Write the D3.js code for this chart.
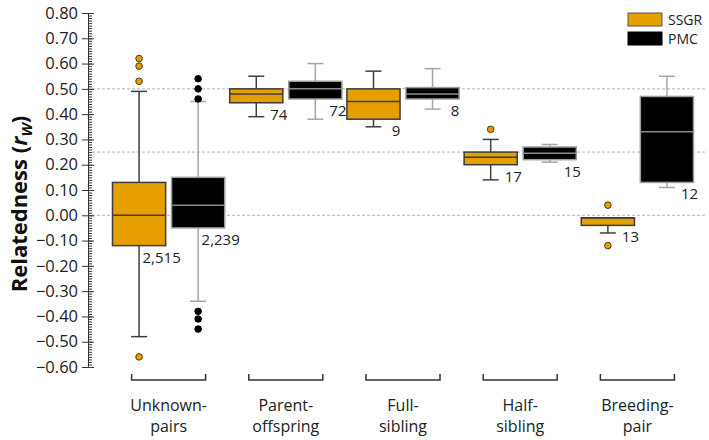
<!DOCTYPE html>
<html><head><meta charset="utf-8">
<script src="https://cdn.jsdelivr.net/npm/d3@7"></script>
<style>body{margin:0;background:#fff}text{font-family:"Open Sans",sans-serif}</style>
</head><body><svg id="c" width="709" height="440"></svg>
<script>
const categories = ["Unknown-pairs","Parent-offspring","Full-sibling","Half-sibling","Breeding-pair"];
const categoryLines = [["Unknown-","pairs"],["Parent-","offspring"],["Full-","sibling"],["Half-","sibling"],["Breeding-","pair"]];
const series = ["SSGR","PMC"];
const yTicks = [0.8,0.7,0.6,0.5,0.4,0.3,0.2,0.1,0,-0.1,-0.2,-0.3,-0.4,-0.5,-0.6];
const gridValues = [0.5,0.25,0];

const ssgrLow    = [-0.48, 0.39, 0.35, 0.14, -0.07];
const ssgrQ1     = [-0.12, 0.445, 0.38, 0.20, -0.04];
const ssgrMedian = [0.00, 0.48, 0.45, 0.23, -0.01];
const ssgrQ3     = [0.13, 0.50, 0.50, 0.25, -0.01];
const ssgrHigh   = [0.49, 0.55, 0.57, 0.30, -0.01];
const ssgrN      = [2515, 74, 9, 17, 13];
const ssgrOutliers = [[0.62,0.59,0.53,-0.56],[],[],[0.34],[0.04,-0.12]];

const pmcLow    = [-0.34, 0.38, 0.42, 0.21, 0.11];
const pmcQ1     = [-0.05, 0.46, 0.46, 0.22, 0.13];
const pmcMedian = [0.04, 0.50, 0.48, 0.245, 0.33];
const pmcQ3     = [0.15, 0.53, 0.505, 0.27, 0.47];
const pmcHigh   = [0.45, 0.60, 0.58, 0.28, 0.55];
const pmcN      = [2239, 72, 8, 15, 12];
const pmcOutliers = [[0.54,0.50,0.46,-0.38,-0.41,-0.45],[],[],[],[]];

const styles = {
  SSGR: {fill:"#E69F00", stroke:"#3d3d3d", median:"#3d3d3d", whisker:"#404040", ptFill:"#E69F00", ptStroke:"#4a3b10"},
  PMC:  {fill:"#000000", stroke:"#9c9c9c", median:"#8a8a8a", whisker:"#a6a6a6", ptFill:"#000000", ptStroke:"#000000"}
};

const boxes = [];
categories.forEach((c,i)=>{
  boxes.push({cat:c, s:"SSGR", low:ssgrLow[i], q1:ssgrQ1[i], med:ssgrMedian[i], q3:ssgrQ3[i], high:ssgrHigh[i], n:ssgrN[i], out:ssgrOutliers[i]});
  boxes.push({cat:c, s:"PMC", low:pmcLow[i], q1:pmcQ1[i], med:pmcMedian[i], q3:pmcQ3[i], high:pmcHigh[i], n:pmcN[i], out:pmcOutliers[i]});
});

const svg = d3.select("#c");
const y = d3.scaleLinear().domain([-0.6,0.8]).range([367,13]);
const x0 = d3.scaleBand().domain(categories).range([110,696]);
const x1 = d3.scaleBand().domain(series).range([2.5, x0.step()-2.5]).paddingInner(0.1);
const axisX = 88;

// gridlines
svg.append("g").selectAll("line").data(gridValues).join("line")
  .attr("x1",axisX+4).attr("x2",706).attr("y1",d=>y(d)).attr("y2",d=>y(d))
  .attr("stroke","#b5b5b5").attr("stroke-width",1).attr("stroke-dasharray","3,2");

// y axis with minor ticks
const minor = d3.range(-60,81).map(v=>v/100);
const gMinor = svg.append("g").attr("transform",`translate(${axisX},0)`)
  .call(d3.axisRight(y).tickValues(minor).tickSize(4).tickFormat(""));
gMinor.select(".domain").remove();
gMinor.selectAll("line").attr("stroke","#333");
const gAxis = svg.append("g").attr("transform",`translate(${axisX},0)`)
  .call(d3.axisLeft(y).tickValues(yTicks).tickSize(6).tickSizeOuter(0)
    .tickFormat(d=> (d<0?"\u2212":"") + d3.format(".2f")(Math.abs(d))));
gAxis.select(".domain").attr("stroke","#333");
gAxis.selectAll(".tick line").attr("stroke","#333").attr("x2",-6).attr("x1",6);
gAxis.selectAll(".tick text").attr("font-size","16.5px").attr("fill","#222").attr("x",-10)
  .style("font-family","'Open Sans',sans-serif");

// y title
const t = svg.append("text").attr("transform","translate(27,204) rotate(-90)")
  .attr("text-anchor","middle").attr("font-size","22px").attr("font-weight","bold").attr("fill","#111");
t.append("tspan").text("Relatedness (");
t.append("tspan").text("r").attr("font-style","italic");
t.append("tspan").text("W").attr("font-style","italic").attr("font-size","15px").attr("dy","5");
t.append("tspan").text(")").attr("dy","-5");

// boxes
const bw = x1.bandwidth();
const gb = svg.append("g").selectAll("g").data(boxes).join("g")
  .attr("transform",d=>`translate(${x0(d.cat)+x1(d.s)},0)`);
const cx = bw/2, cap = 8;
gb.append("line").attr("x1",cx).attr("x2",cx).attr("y1",d=>y(d.high)).attr("y2",d=>y(d.q3))
  .attr("stroke",d=>styles[d.s].whisker).attr("stroke-width",1.5);
gb.append("line").attr("x1",cx).attr("x2",cx).attr("y1",d=>y(d.q1)).attr("y2",d=>y(d.low))
  .attr("stroke",d=>styles[d.s].whisker).attr("stroke-width",1.5);
gb.filter(d=>d.high>d.q3).append("line").attr("x1",cx-cap).attr("x2",cx+cap).attr("y1",d=>y(d.high)).attr("y2",d=>y(d.high))
  .attr("stroke",d=>styles[d.s].whisker).attr("stroke-width",1.5);
gb.filter(d=>d.low<d.q1).append("line").attr("x1",cx-cap).attr("x2",cx+cap).attr("y1",d=>y(d.low)).attr("y2",d=>y(d.low))
  .attr("stroke",d=>styles[d.s].whisker).attr("stroke-width",1.5);
gb.append("rect").attr("x",0).attr("width",bw).attr("y",d=>y(d.q3)).attr("height",d=>y(d.q1)-y(d.q3))
  .attr("fill",d=>styles[d.s].fill).attr("stroke",d=>styles[d.s].stroke).attr("stroke-width",1.5);
gb.append("line").attr("x1",0).attr("x2",bw).attr("y1",d=>y(d.med)).attr("y2",d=>y(d.med))
  .attr("stroke",d=>styles[d.s].median).attr("stroke-width",1.5);
gb.selectAll("circle").data(d=>d.out.map(v=>({v,s:d.s}))).join("circle")
  .attr("cx",cx).attr("cy",d=>y(d.v)).attr("r",3.3)
  .attr("fill",d=>styles[d.s].ptFill).attr("stroke",d=>styles[d.s].ptStroke).attr("stroke-width",1);
gb.append("text").attr("x",bw-4).attr("y",d=>y(d.q1)+17).attr("text-anchor","middle")
  .attr("font-size","15px").attr("fill","#222").text(d=>d3.format(",")(d.n));

// category brackets and labels
const gc = svg.append("g").selectAll("g").data(categories).join("g")
  .attr("transform",d=>`translate(${x0(d)+x0.step()/2},0)`);
gc.append("path").attr("d","M-37,374V380H37V374").attr("fill","none").attr("stroke","#333").attr("stroke-width",1.5);
gc.each(function(d,i){
  const tx = d3.select(this).append("text").attr("text-anchor","middle").attr("font-size","16px").attr("fill","#222");
  categoryLines[i].forEach((ln,j)=>tx.append("tspan").attr("x",0).attr("y",411+j*21).text(ln));
});

// legend
const lg = svg.append("g").selectAll("g").data(series).join("g")
  .attr("transform",(d,i)=>`translate(628,${13+i*19})`);
lg.append("rect").attr("width",34).attr("height",13)
  .attr("fill",d=>styles[d].fill).attr("stroke",d=>d==="SSGR"?"#555":"#000").attr("stroke-width",1);
lg.append("text").attr("x",40).attr("y",12).attr("font-size","14px").attr("fill","#222").text(d=>d);
</script></body></html>
